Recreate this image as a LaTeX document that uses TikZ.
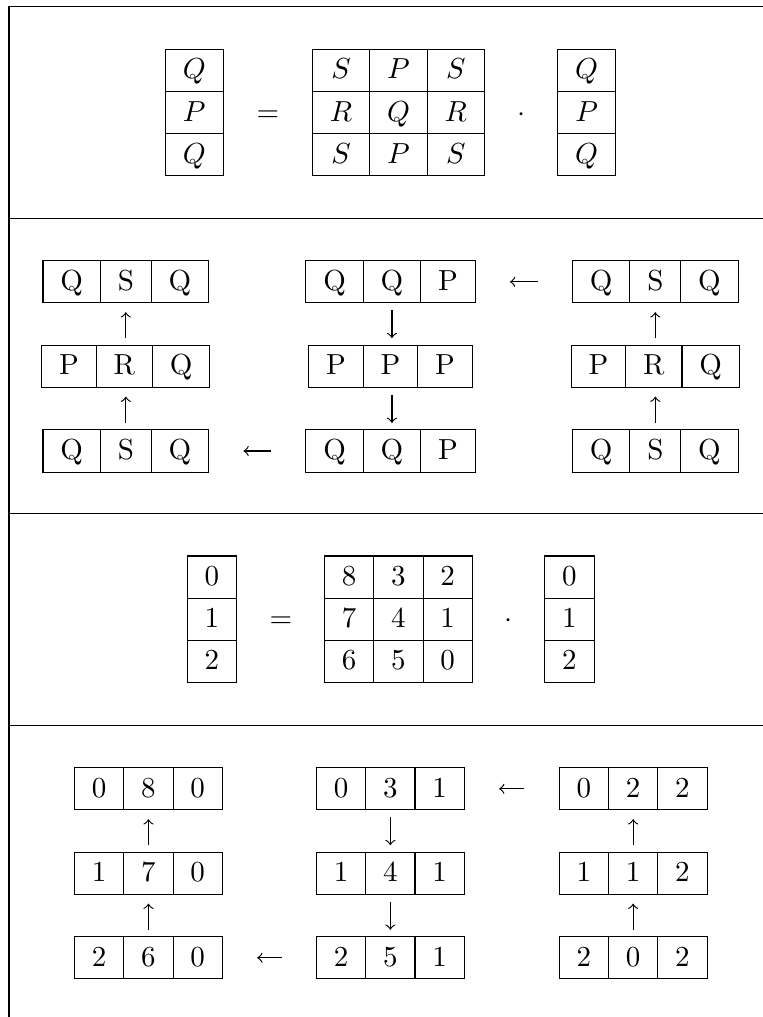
\documentclass[tikz,border=0pt]{standalone}
\newcommand\brow[6]{% name, left x, top y, three entries
  \node[cell, anchor=north west] (#1-1) at (#2,#3) {#4};
  \node[cell, anchor=west] (#1-2) at (#1-1.east) {#5};
  \node[cell, anchor=west] (#1-3) at (#1-2.east) {#6};}
\begin{document}
\begin{tikzpicture}[x=0.34483pt, y=-0.34483pt,
  cell/.style={draw, line width=0.4pt, inner xsep=6pt, inner ysep=0pt, outer sep=0pt,
    text height=10.18pt, text depth=4.37pt},
  rule/.style={line width=0.4pt},
  uparr/.style={->, >=to, line width=0.4pt, shorten <=2.3pt, shorten >=3.2pt},
  dnarr/.style={->, >=to, line width=0.4pt, shorten <=2.6pt, shorten >=2.4pt},
  lfarr/.style={->, >=to, line width=0.4pt, shorten <=12pt, shorten >=12pt},
  op/.style={anchor=base, inner sep=0pt}]
\useasboundingbox (0,0) rectangle (763,1017);
\clip (0,0) rectangle (763,1017);
% table frame
\draw[rule] (800,6.5) -- (9,6.5) -- (9,1040);
\draw[rule] (9,218.3) -- (800,218.3);
\draw[rule] (9,513.8) -- (800,513.8);
\draw[rule] (9,725.3) -- (800,725.3);

% ---------- panel 1 ----------
\begin{scope}[every node/.append style={}]
\node[cell, minimum width=20pt, anchor=north west] (a1) at (165.3,49.3) {$Q$};
\node[cell, minimum width=20pt, anchor=north west] (a2) at (165.3,91.5) {$P$};
\node[cell, minimum width=20pt, anchor=north west] (a3) at (165.3,133.7) {$Q$};
\node[op] (eqA) at (267.8,121.0) {$=$};
\node[cell, minimum width=19.8pt, anchor=north west] (m11) at (312.3,49.3) {$S$};
\node[cell, minimum width=19.8pt, anchor=north west] (m12) at (369.7,49.3) {$P$};
\node[cell, minimum width=19.8pt, anchor=north west] (m13) at (427.1,49.3) {$S$};
\node[cell, minimum width=19.8pt, anchor=north west] (m21) at (312.3,91.5) {$R$};
\node[cell, minimum width=19.8pt, anchor=north west] (m22) at (369.7,91.5) {$Q$};
\node[cell, minimum width=19.8pt, anchor=north west] (m23) at (427.1,91.5) {$R$};
\node[cell, minimum width=19.8pt, anchor=north west] (m31) at (312.3,133.7) {$S$};
\node[cell, minimum width=19.8pt, anchor=north west] (m32) at (369.7,133.7) {$P$};
\node[cell, minimum width=19.8pt, anchor=north west] (m33) at (427.1,133.7) {$S$};
\node[op] (dotA) at (521.3,121.0) {$\cdot$};
\node[cell, minimum width=20pt, anchor=north west] (v1) at (557.7,49.3) {$Q$};
\node[cell, minimum width=20pt, anchor=north west] (v2) at (557.7,91.5) {$P$};
\node[cell, minimum width=20pt, anchor=north west] (v3) at (557.7,133.7) {$Q$};
\end{scope}

% ---------- panel 2 ----------
\brow{b1}{43.0}{260.7}{Q}{S}{Q}
\brow{b2}{41.8}{345.1}{P}{R}{Q}
\brow{b3}{43.0}{429.9}{Q}{S}{Q}
\brow{c1}{305.9}{260.7}{Q}{Q}{P}
\brow{c2}{308.7}{345.1}{P}{P}{P}
\brow{c3}{305.9}{429.9}{Q}{Q}{P}
\brow{d1}{572.5}{260.7}{Q}{S}{Q}
\brow{d2}{571.3}{345.1}{P}{R}{Q}
\brow{d3}{572.5}{429.9}{Q}{S}{Q}
\draw[uparr] (b3-2.north) -- (b3-2.north |- b2-2.south);
\draw[uparr] (b1-2.south |- b2-2.north) -- (b1-2.south);
\draw[dnarr] (c1-2.south) -- (c1-2.south |- c2-2.north);
\draw[dnarr] (c1-2.south |- c2-2.south) -- (c1-2.south |- c3-2.north);
\draw[uparr] (d3-2.north) -- (d3-2.north |- d2-2.south);
\draw[uparr] (d1-2.south |- d2-2.north) -- (d1-2.south);
\draw[lfarr] (d1-1.west) -- (c1-3.east);
\draw[lfarr] (c3-1.west) -- (b3-3.east);

% ---------- panel 3 ----------
\node[cell, minimum width=17pt, anchor=north west] (n1) at (187.3,556.0) {0};
\node[cell, minimum width=17pt, anchor=north west] (n2) at (187.3,598.2) {1};
\node[cell, minimum width=17pt, anchor=north west] (n3) at (187.3,640.4) {2};
\node[op] (eqB) at (281.0,627.7) {$=$};
\node[cell, minimum width=17pt, anchor=north west] (k11) at (324.5,556.0) {8};
\node[cell, minimum width=17pt, anchor=north west] (k12) at (373.8,556.0) {3};
\node[cell, minimum width=17pt, anchor=north west] (k13) at (423.1,556.0) {2};
\node[cell, minimum width=17pt, anchor=north west] (k21) at (324.5,598.2) {7};
\node[cell, minimum width=17pt, anchor=north west] (k22) at (373.8,598.2) {4};
\node[cell, minimum width=17pt, anchor=north west] (k23) at (423.1,598.2) {1};
\node[cell, minimum width=17pt, anchor=north west] (k31) at (324.5,640.4) {6};
\node[cell, minimum width=17pt, anchor=north west] (k32) at (373.8,640.4) {5};
\node[cell, minimum width=17pt, anchor=north west] (k33) at (423.1,640.4) {0};
\node[op] (dotB) at (508.5,627.7) {$\cdot$};
\node[cell, minimum width=17pt, anchor=north west] (w1) at (544.8,556.0) {0};
\node[cell, minimum width=17pt, anchor=north west] (w2) at (544.8,598.2) {1};
\node[cell, minimum width=17pt, anchor=north west] (w3) at (544.8,640.4) {2};

% ---------- panel 4 ----------
\brow{e1}{74.5}{767.7}{0}{8}{0}
\brow{e2}{74.5}{852.1}{1}{7}{0}
\brow{e3}{74.5}{936.7}{2}{6}{0}
\brow{f1}{316.4}{767.7}{0}{3}{1}
\brow{f2}{316.4}{852.1}{1}{4}{1}
\brow{f3}{316.4}{936.7}{2}{5}{1}
\brow{g1}{559.2}{767.7}{0}{2}{2}
\brow{g2}{559.2}{852.1}{1}{1}{2}
\brow{g3}{559.2}{936.7}{2}{0}{2}
\draw[uparr] (e3-2.north) -- (e2-2.south);
\draw[uparr] (e2-2.north) -- (e1-2.south);
\draw[dnarr] (f1-2.south) -- (f2-2.north);
\draw[dnarr] (f2-2.south) -- (f3-2.north);
\draw[uparr] (g3-2.north) -- (g2-2.south);
\draw[uparr] (g2-2.north) -- (g1-2.south);
\draw[lfarr] (g1-1.west) -- (f1-3.east);
\draw[lfarr] (f3-1.west) -- (e3-3.east);
\end{tikzpicture}
\end{document}
